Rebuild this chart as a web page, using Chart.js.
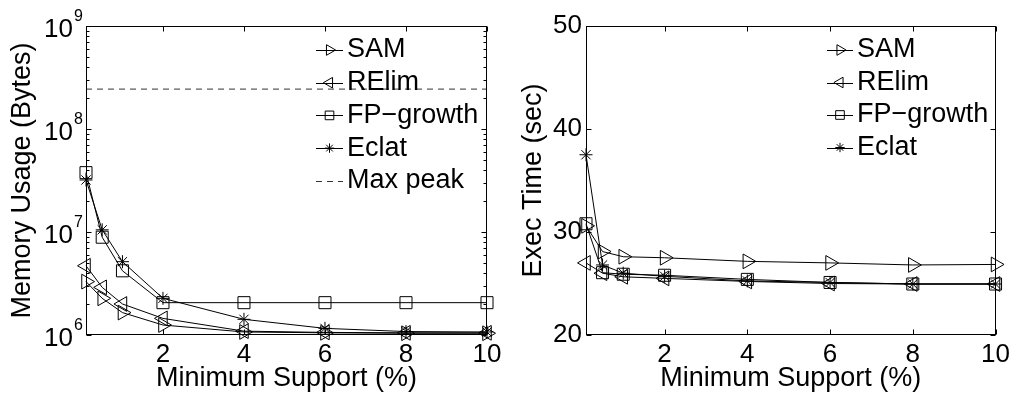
<!DOCTYPE html>
<html>
<head>
<meta charset="utf-8">
<script src="https://cdn.jsdelivr.net/npm/chart.js@4/dist/chart.umd.min.js"></script>
<style>
  html, body { margin: 0; padding: 0; background: #fff; }
  #wrap { position: relative; width: 1014px; height: 397px; }
  canvas { position: absolute; top: 0; }
  #mem { left: 0; }
  #time { left: 507px; }
</style>
</head>
<body>
<div id="wrap">
  <canvas id="mem" width="507" height="397"></canvas>
  <canvas id="time" width="507" height="397"></canvas>
</div>
<script>
// minimum support (%) for every run
const supports = [0.1, 0.5, 1, 2, 4, 6, 8, 10];
const xTicks = [2, 4, 6, 8, 10];

// memory usage (bytes)
const memSAM = [3.3e6, 2.27e6, 1.65e6, 1.25e6, 1.07e6, 1.05e6, 1.04e6, 1.04e6];
const memRElim = [4.7e6, 2.9e6, 2.0e6, 1.45e6, 1.09e6, 1.06e6, 1.05e6, 1.05e6];
const memFP = [3.77e7, 8.9e6, 4.2e6, 2.06e6, 2.06e6, 2.06e6, 2.06e6, 2.06e6];
const memEclat = [3.2e7, 1.05e7, 5.15e6, 2.27e6, 1.42e6, 1.16e6, 1.08e6, 1.07e6];
const maxPeak = 2.44e8;
const memTicks = [1e6, 1e7, 1e8, 1e9];

// execution time (sec)
const timeSAM = [30.6, 28.1, 27.6, 27.5, 27.15, 27.0, 26.8, 26.85];
const timeRElim = [27.0, 26.0, 25.65, 25.5, 25.2, 25.0, 24.95, 24.95];
const timeFP = [30.8, 26.05, 25.9, 25.8, 25.4, 25.1, 24.95, 24.95];
const timeEclat = [37.5, 26.8, 26.0, 25.7, 25.25, 25.1, 24.95, 24.95];
const timeTicks = [20, 30, 40, 50];

const FONT = "'Liberation Sans', Arial, Helvetica, sans-serif";

function series(label, values, pointStyle, rotation, radius) {
  return {
    label,
    data: values.map((v, i) => ({ x: supports[i], y: v })),
    borderColor: "#000",
    borderWidth: 1,
    backgroundColor: "rgba(0,0,0,0)",
    pointStyle,
    pointRotation: rotation,
    pointRadius: radius,
    pointBorderWidth: 1,
    pointBorderColor: "#000",
    pointBackgroundColor: "rgba(0,0,0,0)",
    tension: 0,
    clip: false,
  };
}

function algoSeries(sam, relim, fp, eclat) {
  return [
    series("SAM", sam, "triangle", 90, 8.5),
    series("RElim", relim, "triangle", -90, 8.5),
    series("FP\u2212growth", fp, "rect", 0, 8.5),
    series("Eclat", eclat, "star", 0, 6.5),
  ];
}

// boxed axes with inward ticks on all four sides
const axesBox = {
  id: "axesBox",
  afterDraw(chart, args, opts) {
    const { ctx, chartArea: a, scales } = chart;
    const L = Math.round(a.left) + 0.5, R = Math.round(a.right) - 0.5;
    const T = Math.round(a.top) + 0.5, B = Math.round(a.bottom) - 0.5;
    ctx.save();
    ctx.strokeStyle = "#000";
    ctx.lineWidth = 1;
    ctx.strokeRect(L, T, R - L, B - T);
    ctx.beginPath();
    xTicks.forEach((v) => {
      const px = Math.round(scales.x.getPixelForValue(v)) + 0.5;
      ctx.moveTo(px, B); ctx.lineTo(px, B - 5);
      ctx.moveTo(px, T); ctx.lineTo(px, T + 5);
    });
    const yTick = (v, len) => {
      const py = Math.round(scales.y.getPixelForValue(v)) + 0.5;
      ctx.moveTo(L, py); ctx.lineTo(L + len, py);
      ctx.moveTo(R, py); ctx.lineTo(R - len, py);
    };
    opts.major.forEach((v) => yTick(v, 5));
    if (opts.log) {
      for (let i = 0; i < opts.major.length - 1; i++) {
        for (let k = 2; k <= 9; k++) yTick(opts.major[i] * k, 3);
      }
    }
    ctx.stroke();

    // power-of-ten labels for the log axis
    if (opts.log) {
      ctx.fillStyle = "#000";
      opts.major.forEach((v) => {
        const py = scales.y.getPixelForValue(v);
        const exp = Math.round(Math.log10(v));
        ctx.font = `26px ${FONT}`;
        ctx.textAlign = "right";
        ctx.textBaseline = "alphabetic";
        ctx.fillText("10", 73, py + 11);
        ctx.font = `16px ${FONT}`;
        ctx.textAlign = "left";
        ctx.fillText(String(exp), 74, py - 5);
      });
    }
    ctx.restore();
  },
};

// legend entries drawn as line + marker, no frame
const lineLegend = {
  id: "lineLegend",
  afterDraw(chart, args, opts) {
    const ctx = chart.ctx;
    ctx.save();
    chart.data.datasets.forEach((ds, i) => {
      const y = opts.y + i * opts.spacing;
      ctx.strokeStyle = ds.borderColor;
      ctx.lineWidth = 1;
      ctx.setLineDash(ds.borderDash || []);
      ctx.beginPath();
      ctx.moveTo(opts.x0, Math.round(y) + 0.5);
      ctx.lineTo(opts.x1, Math.round(y) + 0.5);
      ctx.stroke();
      ctx.setLineDash([]);
      if (ds.pointRadius > 0) {
        ctx.fillStyle = "rgba(0,0,0,0)";
        Chart.helpers.drawPoint(ctx, {
          pointStyle: ds.pointStyle,
          rotation: ds.pointRotation || 0,
          radius: ds.pointRadius * 0.72,
          borderWidth: 1,
        }, (opts.x0 + opts.x1) / 2, y);
      }
      ctx.fillStyle = "#000";
      ctx.font = `27px ${FONT}`;
      ctx.textAlign = "left";
      ctx.textBaseline = "middle";
      ctx.fillText(ds.label, opts.textX, y);
    });
    ctx.restore();
  },
};

function xScale() {
  return {
    type: "linear",
    min: 0.1,
    max: 10,
    afterBuildTicks: (s) => { s.ticks = xTicks.map((v) => ({ value: v })); },
    afterFit: (s) => { s.height = 62; },
    grid: { display: false, drawTicks: false },
    border: { display: false },
    ticks: { color: "#000", padding: 4, font: { family: FONT, size: 26, lineHeight: 1.2 } },
    title: {
      display: true,
      text: "Minimum Support (%)",
      color: "#000",
      padding: { bottom: 2 },
      font: { family: FONT, size: 27, lineHeight: 1.2 },
    },
  };
}

new Chart(document.getElementById("mem"), {
  type: "line",
  data: {
    datasets: [
      ...algoSeries(memSAM, memRElim, memFP, memEclat),
      {
        label: "Max peak",
        data: [{ x: 0.1, y: maxPeak }, { x: 10, y: maxPeak }],
        borderColor: "#333",
        borderWidth: 1,
        borderDash: [6, 5],
        pointRadius: 0,
      },
    ],
  },
  options: {
    responsive: false,
    animation: false,
    devicePixelRatio: 1,
    layout: { padding: { top: 26, right: 20, bottom: 0, left: 0 } },
    plugins: {
      legend: { display: false },
      tooltip: { enabled: false },
      axesBox: { major: memTicks, log: true },
      lineLegend: { x0: 316, x1: 343, textX: 347, y: 50, spacing: 32.7 },
    },
    scales: {
      x: xScale(),
      y: {
        type: "logarithmic",
        min: 1e6,
        max: 1e9,
        afterBuildTicks: (s) => { s.ticks = memTicks.map((v) => ({ value: v })); },
        afterFit: (s) => { s.width = 86; },
        grid: { display: false, drawTicks: false },
        border: { display: false },
        ticks: { display: false },
        title: {
          display: true,
          text: "Memory Usage (Bytes)",
          color: "#000",
          padding: { top: 6 },
          font: { family: FONT, size: 27, lineHeight: 1.2 },
        },
      },
    },
  },
  plugins: [axesBox, lineLegend],
});

new Chart(document.getElementById("time"), {
  type: "line",
  data: { datasets: algoSeries(timeSAM, timeRElim, timeFP, timeEclat) },
  options: {
    responsive: false,
    animation: false,
    devicePixelRatio: 1,
    layout: { padding: { top: 26, right: 16, bottom: 0, left: 0 } },
    plugins: {
      legend: { display: false },
      tooltip: { enabled: false },
      axesBox: { major: timeTicks, log: false },
      lineLegend: { x0: 320, x1: 346, textX: 350, y: 50, spacing: 32.5 },
    },
    scales: {
      x: xScale(),
      y: {
        type: "linear",
        min: 20,
        max: 50,
        afterBuildTicks: (s) => { s.ticks = timeTicks.map((v) => ({ value: v })); },
        afterFit: (s) => { s.width = 79; },
        grid: { display: false, drawTicks: false },
        border: { display: false },
        ticks: { color: "#000", padding: 4, font: { family: FONT, size: 26, lineHeight: 1.2 } },
        title: {
          display: true,
          text: "Exec Time (sec)",
          color: "#000",
          padding: { top: 10 },
          font: { family: FONT, size: 27, lineHeight: 1.2 },
        },
      },
    },
  },
  plugins: [axesBox, lineLegend],
});
</script>
</body>
</html>
